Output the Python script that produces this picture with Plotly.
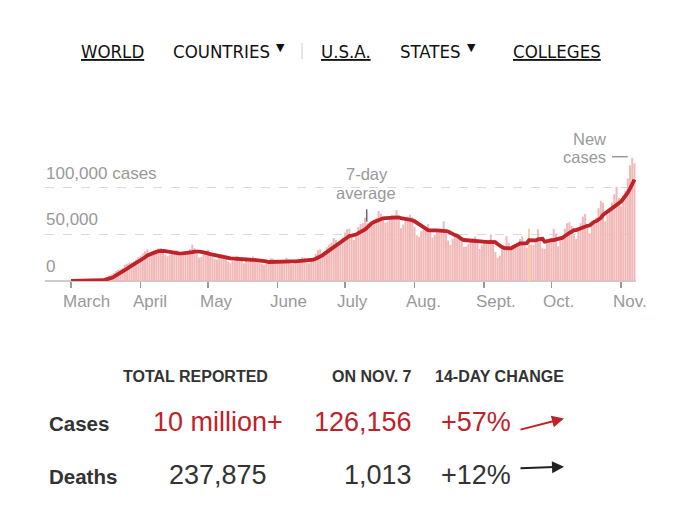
import pandas as pd
import plotly.graph_objects as go

# ---------------- data ----------------
START_DATE = "2020-03-01"
MARCH = [10, 20, 25, 35, 60, 80, 110, 150, 250, 320,
         450, 600, 900, 1200, 1800, 2800, 4000, 5700, 7000, 8500,
         10500, 12000, 12500, 14000, 17500, 18500, 19500, 20000, 21000, 23000, 25500]
APRIL = [27000, 29500, 32000, 34000, 29000, 30500, 31000, 32500, 35000, 35500,
         31500, 28500, 26500, 28000, 30000, 31000, 33000, 30500, 27000, 27500,
         28000, 30500, 34000, 39000, 35000, 29000, 25000, 25500, 28500, 31000]
MAY = [33500, 29500, 26000, 23500, 23000, 25000, 28500, 28000, 25500, 20500,
       19000, 21500, 21500, 27000, 25500, 24000, 19000, 21500, 20500, 22000,
       26500, 24000, 22500, 19500, 18500, 17500, 19000, 21500, 24500, 24000, 20500]
JUNE = [20500, 20000, 20500, 22000, 25000, 23000, 18000, 18500, 20000, 21500,
        23000, 25500, 25000, 19500, 19000, 24000, 25000, 29000, 33000, 34000,
        28500, 32000, 36000, 39000, 41000, 46000, 44000, 41500, 42000, 47000]
JULY = [52000, 55500, 56000, 47000, 44000, 47500, 58000, 61000, 62000, 68000,
        62000, 61000, 63000, 66000, 67500, 75000, 72000, 66000, 62500, 63500,
        67500, 71000, 70500, 76000, 66000, 56500, 60500, 64500, 69000, 71000, 68500]
AUGUST = [58000, 49000, 47000, 53500, 55000, 58500, 61000, 56000, 46500, 49500,
          53500, 55000, 52500, 64000, 53500, 43500, 38500, 45000, 47500, 47000,
          49500, 43500, 36500, 37000, 39500, 45000, 45500, 47500, 43000, 34500, 38500]
SEPTEMBER = [41500, 42500, 44000, 50000, 44000, 31000, 25000, 27000, 34000, 36000,
             48000, 41000, 34500, 34500, 39500, 39000, 45000, 48000, 42000, 36000,
             56000, 39000, 38500, 45000, 55500, 47000, 35000, 34500, 45000, 43000]
OCTOBER = [46000, 56000, 51000, 37000, 44000, 48000, 56000, 62000, 63000, 59000,
           49000, 45000, 56000, 62000, 69000, 72000, 61000, 51000, 64000, 65000,
           68000, 78000, 86000, 84000, 64000, 71000, 78000, 84000, 93000, 101000, 89000]
NOVEMBER = [80000, 92000, 97000, 110000, 124000, 132000, 126156]
SPECIAL_DAY = "2020-09-21"

MONTH_TICKS = ["2020-03-01", "2020-04-01", "2020-05-01", "2020-06-01", "2020-07-01",
               "2020-08-01", "2020-09-01", "2020-10-01", "2020-11-01"]
MONTH_LABELS = ["March", "April", "May", "June", "July", "Aug.", "Sept.", "Oct.", "Nov."]
Y_TICKS = [0, 50000, 100000]
Y_LABELS = ["0", "50,000", "100,000 cases"]

NAV_ITEMS = ["WORLD", "COUNTRIES", "U.S.A.", "STATES", "COLLEGES"]
TABLE_HEADERS = ["TOTAL REPORTED", "ON NOV. 7", "14-DAY CHANGE"]
ROW_LABELS = ["Cases", "Deaths"]
TOTALS = ["10 million+", "237,875"]
ON_DAY = ["126,156", "1,013"]
CHANGE = ["+57%", "+12%"]

# ---------------- build series ----------------
cases = MARCH + APRIL + MAY + JUNE + JULY + AUGUST + SEPTEMBER + OCTOBER + NOVEMBER
dates = pd.date_range(START_DATE, periods=len(cases), freq="D")
df = pd.DataFrame({"date": dates, "cases": cases})
df["avg"] = df["cases"].rolling(7, min_periods=1).mean()

RED = "#bf2229"
PINK = "#f1b8b8"
ORANGE = "#f5cda2"
GRAY = "#999999"
DARK = "#333333"
colors = [ORANGE if d.strftime("%Y-%m-%d") == SPECIAL_DAY else PINK for d in df["date"]]

# ---------------- geometry helpers (pixels -> paper) ----------------
W, H = 680, 521
PL, PR, PT, PB = 45, 636, 150, 281
PX_PER_DAY = 2.245
X0_PX = 71  # pixel of START_DATE


def xp(px):
    return (px - PL) / (PR - PL)


def yp(py):
    return (PB - py) / (PB - PT)


start = pd.Timestamp(START_DATE)
x_left = start + pd.Timedelta(days=(PL - X0_PX) / PX_PER_DAY)
x_right = start + pd.Timedelta(days=(PR - X0_PX) / PX_PER_DAY)
y_top = (PB - PT) / (PB - 187.7) * 100000

fig = go.Figure()
fig.add_trace(go.Bar(x=df["date"], y=df["cases"], marker=dict(color=colors, line=dict(width=0)),
                     hoverinfo="skip"))
fig.add_trace(go.Scatter(x=df["date"], y=df["avg"], mode="lines",
                         line=dict(color=RED, width=3.8), hoverinfo="skip"))

SANS = "Liberation Sans, Arial, sans-serif"
NARROW = "DejaVu Sans Condensed, Liberation Sans Narrow, sans-serif"

ann = []


def text(t, x, y, size, color, xanchor="center", family=SANS, xref="paper", yref="paper",
         yshift=0, xshift=0):
    ann.append(dict(text=t, x=x, y=y, xref=xref, yref=yref, showarrow=False,
                    xanchor=xanchor, yanchor="middle", borderpad=0, yshift=yshift, xshift=xshift,
                    font=dict(family=family, size=size, color=color)))


# nav
nav_center = [112.5, 221.4, 346, 430.3, 557]
nav_under = [True, False, True, False, True]
for item, cx, u in zip(NAV_ITEMS, nav_center, nav_under):
    text("<u>%s</u>" % item if u else item, xp(cx), yp(51), 18.5, "#121212", "center", NARROW)
for tx in [280, 471]:
    text("▼", xp(tx), yp(47.5), 11, "#121212", "center", "DejaVu Sans")

# y labels
for v, lab in zip(Y_TICKS, Y_LABELS):
    text(lab, 0, v, 17, GRAY, "left", yref="y", yshift=14.5)

# month labels
for d, lab in zip(MONTH_TICKS, MONTH_LABELS):
    text(lab, d, yp(301), 17, GRAY, "left", xref="x", xshift=-9)

# chart annotations
text("7-day", xp(366.7), yp(173.8), 16.5, GRAY)
text("average", xp(366.4), yp(192.6), 16.5, GRAY)
text("New", xp(607), yp(138.5), 16.5, GRAY, "right")
text("cases", xp(607), yp(157.4), 16.5, GRAY, "right")

# table
text("<b>%s</b>" % TABLE_HEADERS[0], xp(195.2), yp(376.2), 16, DARK, "center")
text("<b>%s</b>" % TABLE_HEADERS[1], xp(412.5), yp(376.2), 16, DARK, "right")
text("<b>%s</b>" % TABLE_HEADERS[2], xp(434), yp(376.2), 16, DARK, "left")
row_y = [422.0, 475.0]
row_col = [RED, DARK]
for i in range(2):
    text("<b>%s</b>" % ROW_LABELS[i], xp(48), yp(row_y[i] + 1.8), 20.5, DARK, "left")
    text(TOTALS[i], xp(218), yp(row_y[i]), 27, row_col[i], "center")
    text(ON_DAY[i], xp(412.5), yp(row_y[i]), 27, row_col[i], "right")
    text(CHANGE[i], xp(440), yp(row_y[i]), 27, row_col[i], "left")

# trend arrows
arrows = [((564, 418.5), (519, 430), RED), ((564, 466.7), (519, 468.4), "#222222")]
for (hx, hy), (tx_, ty), col in arrows:
    ann.append(dict(x=xp(hx), y=yp(hy), xref="paper", yref="paper", ax=tx_ - hx, ay=ty - hy,
                    axref="pixel", ayref="pixel", showarrow=True, arrowhead=2, arrowsize=1.2,
                    arrowwidth=2, arrowcolor=col, text=""))

shapes = [
    dict(type="line", xref="paper", yref="paper", x0=xp(302), x1=xp(302), y0=yp(43), y1=yp(59),
         line=dict(color="#cccccc", width=1)),
    dict(type="line", xref="paper", yref="paper", x0=xp(366.7), x1=xp(366.7), y0=yp(209.3),
         y1=yp(221.7), line=dict(color="#666666", width=1.5)),
    dict(type="line", xref="paper", yref="paper", x0=xp(612), x1=xp(627.7), y0=yp(156.7),
         y1=yp(156.7), line=dict(color=GRAY, width=1.5)),
]

fig.update_layout(
    width=W, height=H,
    margin=dict(l=PL, r=W - PR, t=PT, b=H - PB, pad=0),
    paper_bgcolor="white", plot_bgcolor="white",
    showlegend=False, bargap=0.1, hovermode=False,
    annotations=ann, shapes=shapes,
    xaxis=dict(type="date", range=[x_left, x_right], tickvals=MONTH_TICKS, showticklabels=False,
               ticks="outside", ticklen=6, tickwidth=1.5, tickcolor=GRAY,
               showgrid=False, zeroline=False, showline=False, fixedrange=True),
    yaxis=dict(range=[0, y_top], tickvals=Y_TICKS, showticklabels=False, showgrid=True,
               gridcolor="#d9d9d9", griddash="dash", gridwidth=1,
               zeroline=True, zerolinecolor="#cccccc", zerolinewidth=1.5,
               showline=False, ticks="", fixedrange=True),
)

fig.write_html("out.html", config={"displayModeBar": False, "staticPlot": True},
               post_script="document.body.style.margin='0';")
